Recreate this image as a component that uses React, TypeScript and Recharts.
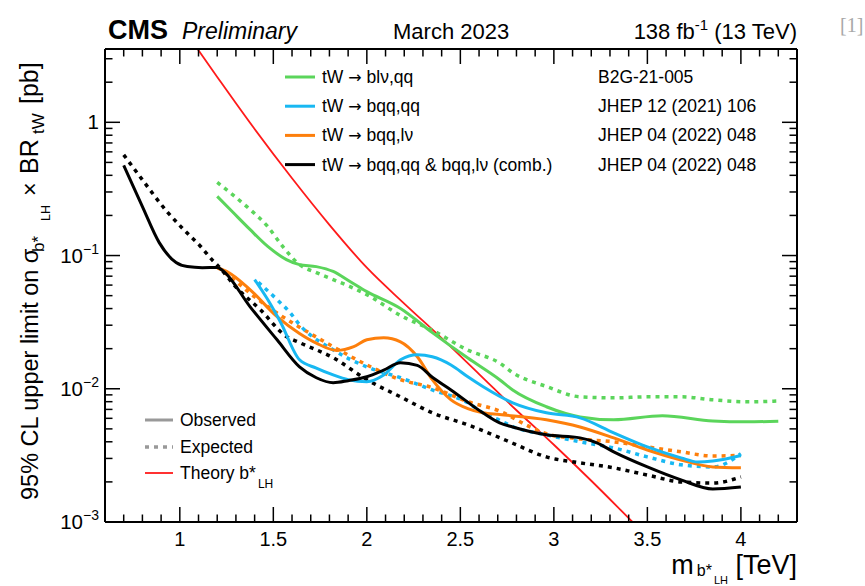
import React from 'react';
import { LineChart, Line, XAxis, YAxis } from 'recharts';

const FONT = '"Liberation Sans", Arial, Helvetica, sans-serif';

// b* mass [TeV] and 95% CL upper limits on sigma x BR [pb]
const greenObsMass = [1.2, 1.28, 1.375, 1.47, 1.57, 1.64, 1.73, 1.82, 1.91, 2.0, 2.18, 2.35, 2.54, 2.71, 2.78, 2.96, 3.14, 3.32, 3.58, 3.85, 4.03, 4.2];
const greenObs = [0.278, 0.214, 0.157, 0.117, 0.0933, 0.0855, 0.0826, 0.0759, 0.0638, 0.0536, 0.04, 0.0264, 0.017, 0.0117, 0.0098, 0.00733, 0.00615, 0.00585, 0.00627, 0.00574, 0.00565, 0.0057];
const greenExpMass = [1.2, 1.28, 1.375, 1.47, 1.55, 1.64, 1.73, 1.82, 1.91, 2.0, 2.18, 2.35, 2.54, 2.71, 2.78, 2.96, 3.14, 3.32, 3.5, 3.68, 3.85, 4.03, 4.2];
const greenExp = [0.354, 0.288, 0.222, 0.165, 0.117, 0.0855, 0.0745, 0.066, 0.0585, 0.0509, 0.0355, 0.0275, 0.0195, 0.0156, 0.0132, 0.0104, 0.0087, 0.00855, 0.0087, 0.0087, 0.00826, 0.00798, 0.0081];

const blueObsMass = [1.4, 1.47, 1.54, 1.64, 1.73, 1.82, 1.9, 2.0, 2.09, 2.18, 2.27, 2.35, 2.45, 2.54, 2.62, 2.78, 2.96, 3.14, 3.32, 3.5, 3.68, 3.77, 3.85, 4.0];
const blueObs = [0.066, 0.0467, 0.0313, 0.0165, 0.0143, 0.0127, 0.0117, 0.0113, 0.0127, 0.0165, 0.018, 0.0174, 0.0151, 0.0123, 0.0104, 0.00785, 0.0066, 0.00605, 0.00467, 0.00366, 0.00303, 0.00282, 0.00287, 0.00316];
const blueExpMass = [1.42, 1.52, 1.59, 1.64, 1.82, 2.0, 2.18, 2.35, 2.54, 2.62, 2.71, 2.78, 2.96, 3.14, 3.32, 3.5, 3.68, 3.85, 4.0];
const blueExp = [0.063, 0.0467, 0.0372, 0.0303, 0.0196, 0.0146, 0.0121, 0.0098, 0.00785, 0.0066, 0.0058, 0.0052, 0.00451, 0.004, 0.0036, 0.00308, 0.00269, 0.00259, 0.00325];

const orangeObsMass = [1.2, 1.25, 1.375, 1.52, 1.64, 1.73, 1.84, 1.93, 2.0, 2.09, 2.18, 2.27, 2.35, 2.45, 2.54, 2.62, 2.71, 2.96, 3.14, 3.32, 3.5, 3.68, 3.85, 4.0];
const orangeObs = [0.081, 0.076, 0.0555, 0.0348, 0.026, 0.022, 0.0194, 0.0207, 0.0233, 0.0241, 0.0225, 0.0174, 0.0117, 0.00826, 0.0071, 0.0066, 0.0064, 0.00585, 0.00517, 0.00428, 0.00347, 0.00292, 0.00259, 0.00255];
const orangeExpMass = [1.2, 1.3, 1.4, 1.52, 1.64, 1.82, 2.0, 2.18, 2.35, 2.54, 2.71, 2.87, 2.96, 3.14, 3.32, 3.5, 3.68, 3.85, 4.0];
const orangeExp = [0.082, 0.064, 0.049, 0.037, 0.029, 0.0207, 0.0151, 0.0117, 0.0102, 0.008, 0.0068, 0.0052, 0.0046, 0.0042, 0.004, 0.00366, 0.00336, 0.00313, 0.00316];

const combObsMass = [0.7, 0.8, 0.89, 0.98, 1.04, 1.12, 1.2, 1.23, 1.375, 1.52, 1.64, 1.73, 1.82, 1.9, 2.0, 2.09, 2.18, 2.27, 2.35, 2.45, 2.62, 2.71, 2.78, 2.96, 3.14, 3.23, 3.32, 3.5, 3.68, 3.85, 4.0];
const combObs = [0.475, 0.233, 0.125, 0.0885, 0.0826, 0.081, 0.0813, 0.077, 0.0414, 0.0233, 0.0146, 0.0121, 0.0111, 0.0115, 0.0123, 0.0138, 0.0157, 0.015, 0.0122, 0.0098, 0.0066, 0.00554, 0.00517, 0.00451, 0.00428, 0.00393, 0.00336, 0.00259, 0.00207, 0.00177, 0.00183];
const combExpMass = [0.7, 0.8, 0.93, 1.02, 1.11, 1.18, 1.2, 1.3, 1.43, 1.57, 1.64, 1.82, 2.0, 2.18, 2.35, 2.54, 2.71, 2.78, 2.96, 3.14, 3.32, 3.5, 3.68, 3.85, 4.0];
const combExp = [0.57, 0.37, 0.215, 0.157, 0.1175, 0.0906, 0.085, 0.058, 0.0393, 0.0247, 0.0222, 0.0171, 0.0117, 0.0087, 0.0066, 0.00536, 0.0043, 0.0039, 0.00308, 0.00278, 0.00255, 0.00225, 0.002, 0.00196, 0.00218];

// b*_LH theory cross section [pb]
const theoryMass = [1.0, 1.2, 1.4, 1.6, 1.8, 2.0, 2.2, 2.4, 2.6, 2.8, 3.0, 3.2, 3.4, 3.6];
const theoryXsec = [5.5, 2.19, 0.89, 0.38, 0.17, 0.081, 0.0436, 0.024, 0.0129, 0.0069, 0.0038, 0.00204, 0.00107, 0.00056];

// axes
const xDomain = [0.6, 4.3];
const yDomain = [0.001, 3.55];
const xMajor = [1, 1.5, 2, 2.5, 3, 3.5, 4];
const yMajor = [0.001, 0.01, 0.1, 1];
const yMajorLabels = ['−3', '−2', '−1', ''];

const xTicks: number[] = [];
for (let i = 6; i <= 43; i++) xTicks.push(i / 10);
const yTicks: number[] = [];
for (let d = -3; d <= 0; d++) {
  for (let k = 1; k <= 9; k++) {
    const v = k * Math.pow(10, d);
    if (v <= yDomain[1]) yTicks.push(v);
  }
}

const GREEN = '#5bd55b';
const BLUE = '#18b8f2';
const ORANGE = '#fd7f0c';
const RED = '#ff1a1a';
const DASH = '4 5';

const pts = (m: number[], v: number[]) => m.map((x, i) => ({ m: x, v: v[i] }));

const isMajorX = (v: number) => xMajor.some((t) => Math.abs(t - v) < 1e-6);
const majorYIndex = (v: number) => yMajor.findIndex((t) => Math.abs(Math.log10(t) - Math.log10(v)) < 1e-6);

const BottomTick = ({ x, y, payload }: any) => {
  const major = isMajorX(payload.value);
  return (
    <g>
      <line x1={x} x2={x} y1={y} y2={y - (major ? 15 : 7.5)} stroke="#000" strokeWidth={1.5} />
      {major && (
        <text x={x} y={y + 24} textAnchor="middle" fontSize={20} fontFamily={FONT} fill="#000">
          {payload.value}
        </text>
      )}
    </g>
  );
};

const TopTick = ({ x, y, payload }: any) => {
  const major = isMajorX(payload.value);
  return <line x1={x} x2={x} y1={y} y2={y + (major ? 15 : 7.5)} stroke="#000" strokeWidth={1.5} />;
};

const LeftTick = ({ x, y, payload }: any) => {
  const idx = majorYIndex(payload.value);
  const major = idx >= 0;
  return (
    <g>
      <line x1={x} x2={x + (major ? 15 : 7.5)} y1={y} y2={y} stroke="#000" strokeWidth={1.5} />
      {major && (
        <text x={x - 6} y={y + 7} textAnchor="end" fontSize={20.5} fontFamily={FONT} fill="#000">
          {yMajorLabels[idx] === '' ? '1' : '10'}
          {yMajorLabels[idx] !== '' && (
            <tspan fontSize={14} dy={-9}>
              {yMajorLabels[idx]}
            </tspan>
          )}
        </text>
      )}
    </g>
  );
};

const RightTick = ({ x, y, payload }: any) => {
  const major = majorYIndex(payload.value) >= 0;
  return <line x1={x} x2={x - (major ? 15 : 7.5)} y1={y} y2={y} stroke="#000" strokeWidth={1.5} />;
};

const frame = { stroke: '#000', strokeWidth: 2 };

const topLegend = [
  { color: GREEN, decay: 'blν,qq', ref: 'B2G-21-005' },
  { color: BLUE, decay: 'bqq,qq', ref: 'JHEP 12 (2021) 106' },
  { color: ORANGE, decay: 'bqq,lν', ref: 'JHEP 04 (2022) 048' },
  { color: '#000', decay: 'bqq,qq & bqq,lν (comb.)', ref: 'JHEP 04 (2022) 048' },
];

// pieces of the rotated y title: text, font size, start (px from top), shift right
const yTitle = [
  { t: '95% CL upper limit on σ', fs: 23.5, at: 500, dx: 0 },
  { t: 'b*', fs: 17, at: 252, dx: 6 },
  { t: 'LH', fs: 12.5, at: 221, dx: 12 },
  { t: '×', fs: 23.5, at: 196, dx: 0 },
  { t: 'BR', fs: 25, at: 174, dx: 0 },
  { t: 'tW', fs: 17, at: 134, dx: 6 },
  { t: '[pb]', fs: 25, at: 104, dx: 0 },
];

export default function App() {
  return (
    <div style={{ position: 'absolute', left: 0, top: 0, width: 865, height: 586, background: '#fff' }}>
      <LineChart width={865} height={586} margin={{ top: 0, right: 0, bottom: 0, left: 0 }}>
        <XAxis
          dataKey="m"
          type="number"
          domain={xDomain}
          allowDataOverflow
          ticks={xTicks}
          interval={0}
          height={64}
          tickSize={0}
          tickMargin={0}
          tickLine={false}
          axisLine={frame}
          tick={(p: any) => <BottomTick {...p} />}
        />
        <XAxis
          xAxisId="top"
          orientation="top"
          dataKey="m"
          type="number"
          domain={xDomain}
          allowDataOverflow
          ticks={xTicks}
          interval={0}
          height={49}
          tickSize={0}
          tickMargin={0}
          tickLine={false}
          axisLine={frame}
          tick={(p: any) => <TopTick {...p} />}
        />
        <YAxis
          scale="log"
          type="number"
          domain={yDomain}
          allowDataOverflow
          ticks={yTicks}
          interval={0}
          width={105}
          tickSize={0}
          tickMargin={0}
          tickLine={false}
          axisLine={frame}
          tick={(p: any) => <LeftTick {...p} />}
        />
        <YAxis
          yAxisId="right"
          orientation="right"
          scale="log"
          type="number"
          domain={yDomain}
          allowDataOverflow
          ticks={yTicks}
          interval={0}
          width={68}
          tickSize={0}
          tickMargin={0}
          tickLine={false}
          axisLine={frame}
          tick={(p: any) => <RightTick {...p} />}
        />

        <Line data={pts(theoryMass, theoryXsec)} dataKey="v" type="monotone" stroke={RED} strokeWidth={1.8} dot={false} isAnimationActive={false} />

        <Line data={pts(greenExpMass, greenExp)} dataKey="v" type="monotone" stroke={GREEN} strokeWidth={3.5} strokeDasharray={DASH} dot={false} isAnimationActive={false} />
        <Line data={pts(greenObsMass, greenObs)} dataKey="v" type="monotone" stroke={GREEN} strokeWidth={3} dot={false} isAnimationActive={false} />

        <Line data={pts(orangeExpMass, orangeExp)} dataKey="v" type="monotone" stroke={ORANGE} strokeWidth={3.5} strokeDasharray={DASH} dot={false} isAnimationActive={false} />
        <Line data={pts(blueExpMass, blueExp)} dataKey="v" type="monotone" stroke={BLUE} strokeWidth={3.5} strokeDasharray={DASH} dot={false} isAnimationActive={false} />
        <Line data={pts(combExpMass, combExp)} dataKey="v" type="monotone" stroke="#000" strokeWidth={3.5} strokeDasharray={DASH} dot={false} isAnimationActive={false} />

        <Line data={pts(orangeObsMass, orangeObs)} dataKey="v" type="monotone" stroke={ORANGE} strokeWidth={3} dot={false} isAnimationActive={false} />
        <Line data={pts(blueObsMass, blueObs)} dataKey="v" type="monotone" stroke={BLUE} strokeWidth={3} dot={false} isAnimationActive={false} />
        <Line data={pts(combObsMass, combObs)} dataKey="v" type="monotone" stroke="#000" strokeWidth={3} dot={false} isAnimationActive={false} />
      </LineChart>

      {/* titles, axis labels and legends */}
      <svg width={865} height={586} style={{ position: 'absolute', left: 0, top: 0, pointerEvents: 'none' }} fontFamily={FONT}>
        <text x={108} y={39} fontSize={27} fontWeight="bold">CMS</text>
        <text x={182} y={39} fontSize={23} fontStyle="italic">Preliminary</text>
        <text x={393} y={39} fontSize={22}>March 2023</text>
        <text x={797} y={39} fontSize={22} textAnchor="end">
          138 fb<tspan fontSize={15} dy={-9}>-1</tspan>
          <tspan dy={9}> (13 TeV)</tspan>
        </text>
        <text x={840} y={32} fontSize={20} fill="#a8a8a8" fontFamily='"Liberation Serif", serif'>[1]</text>

        {yTitle.map((p) => (
          <text key={p.t} transform={`translate(${38 + p.dx},${p.at}) rotate(-90)`} fontSize={p.fs}>
            {p.t}
          </text>
        ))}

        <text x={797} y={574} fontSize={27} textAnchor="end">
          m<tspan fontSize={16} dx={3} dy={2}>b*</tspan>
          <tspan fontSize={11} dx={2} dy={8}>LH</tspan>
          <tspan fontSize={27} dy={-10}> [TeV]</tspan>
        </text>

        {topLegend.map((row, i) => (
          <g key={row.ref + i}>
            <line x1={285} x2={315} y1={77 + i * 29.2} y2={77 + i * 29.2} stroke={row.color} strokeWidth={3} />
            <text x={322} y={83 + i * 29.2} fontSize={17.5}>
              tW <tspan fontFamily='"DejaVu Sans", sans-serif' fontSize={16}>→</tspan> {row.decay}
            </text>
            <text x={598} y={83 + i * 29.2} fontSize={17.5}>{row.ref}</text>
          </g>
        ))}

        <line x1={145} x2={173} y1={420} y2={420} stroke="#999" strokeWidth={3} />
        <text x={180} y={426} fontSize={17.5}>Observed</text>
        <line x1={145} x2={173} y1={447} y2={447} stroke="#999" strokeWidth={3.5} strokeDasharray={DASH} />
        <text x={180} y={453} fontSize={17.5}>Expected</text>
        <line x1={145} x2={173} y1={473} y2={473} stroke={RED} strokeWidth={1.8} />
        <text x={180} y={479} fontSize={17.5}>
          Theory b*<tspan fontSize={12} dx={2} dy={9}>LH</tspan>
        </text>
      </svg>
    </div>
  );
}
